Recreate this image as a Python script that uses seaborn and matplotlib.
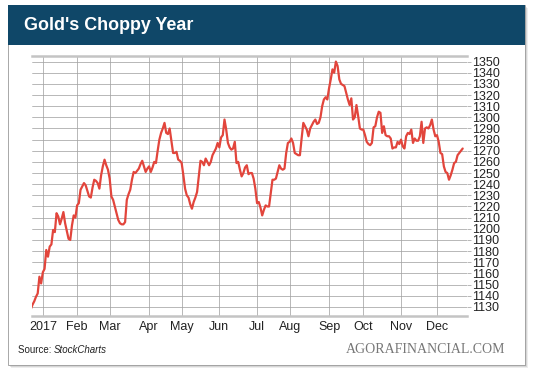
import matplotlib
matplotlib.use("Agg")
import matplotlib.pyplot as plt
from matplotlib.patches import Rectangle
import seaborn as sns
import pandas as pd

# gold daily close, trading-day index 0 = first session of 2017
prices = [
    1128, 1132, 1135, 1139, 1142, 1157, 1151, 1161, 1164, 1181,
    1175, 1184, 1186, 1199, 1197, 1214, 1211, 1204, 1209, 1215,
    1205, 1198, 1191, 1190, 1203, 1212, 1210, 1221, 1223, 1235,
    1238, 1241, 1239, 1234, 1229, 1228, 1237, 1244, 1243, 1241,
    1236, 1248, 1256, 1262, 1257, 1253, 1245, 1229, 1226, 1220,
    1214, 1208, 1205, 1204, 1204, 1206, 1226, 1231, 1235, 1244,
    1251, 1250, 1252, 1254, 1258, 1261, 1256, 1251, 1254, 1256,
    1251, 1255, 1260, 1259, 1270, 1280, 1286, 1290, 1295, 1286,
    1285, 1290, 1279, 1268, 1268, 1269, 1262, 1261, 1259, 1248,
    1236, 1230, 1228, 1222, 1218, 1224, 1228, 1233, 1247, 1261,
    1260, 1257, 1263, 1260, 1257, 1260, 1266, 1269, 1272, 1277,
    1273, 1282, 1284, 1298, 1289, 1277, 1273, 1271, 1272, 1278,
    1259, 1260, 1253, 1247, 1250, 1255, 1257, 1249, 1250, 1250,
    1245, 1236, 1223, 1224, 1219, 1212, 1217, 1221, 1220, 1220,
    1232, 1244, 1244, 1245, 1251, 1257, 1254, 1253, 1254, 1268,
    1277, 1278, 1281, 1277, 1268, 1267, 1266, 1266, 1281, 1295,
    1292, 1289, 1283, 1290, 1293, 1296, 1298, 1294, 1295, 1300,
    1310, 1316, 1318, 1316, 1326, 1334, 1343, 1340, 1350, 1346,
    1334, 1330, 1329, 1328, 1322, 1316, 1311, 1317, 1298, 1300,
    1311, 1301, 1290, 1289, 1289, 1284, 1278, 1276, 1275, 1277,
    1291, 1292, 1300, 1305, 1304, 1286, 1292, 1284, 1283, 1283,
    1281, 1272, 1273, 1273, 1278, 1276, 1280, 1274, 1272, 1283,
    1286, 1285, 1289, 1277, 1281, 1279, 1279, 1283, 1296, 1277,
    1290, 1291, 1290, 1293, 1298, 1289, 1283, 1284, 1278, 1268,
    1267, 1256, 1251, 1250, 1244, 1248, 1253, 1259, 1260, 1266,
    1268, 1270, 1272,
]
first_day = -7
days = list(range(first_day, first_day + len(prices)))

month_days = [0, 20, 39, 62, 81, 103, 125, 144, 167, 187, 209, 230]
month_labels = ['2017', 'Feb', 'Mar', 'Apr', 'May', 'Jun',
                'Jul', 'Aug', 'Sep', 'Oct', 'Nov', 'Dec']
price_ticks = list(range(1130, 1351, 10))

df = pd.DataFrame({'day': days, 'price': prices})

sns.set_style('white')
plt.rcParams['font.family'] = ['Liberation Sans', 'DejaVu Sans']

fig = plt.figure(figsize=(5.4, 3.75), dpi=100)
fig.patch.set_facecolor('white')

# card shadow + card + header band
for off, a in [(0.006, 0.10), (0.004, 0.15), (0.002, 0.25)]:
    fig.patches.append(Rectangle((0.0148 + off, 0.0267 - off * 1.4), 0.9574, 0.96,
                                 transform=fig.transFigure, facecolor='#555555',
                                 alpha=a, edgecolor='none', zorder=0))
fig.patches.append(Rectangle((0.0148, 0.0267), 0.9574, 0.96, transform=fig.transFigure,
                             facecolor='white', edgecolor='#9a9a9a', linewidth=0.6, zorder=1))
fig.patches.append(Rectangle((0.0148, 0.88), 0.9574, 0.1067, transform=fig.transFigure,
                             facecolor='#0f4768', edgecolor='none', zorder=2))
fig.text(0.045, 0.932, "Gold's Choppy Year", color='white', fontsize=12.9,
         fontweight='bold', va='center', ha='left', zorder=3)

ax = fig.add_axes([0.0587, 0.158, 0.8061, 0.6927])
ax.set_zorder(4)
ax.patch.set_alpha(0)

sns.lineplot(data=df, x='day', y='price', ax=ax, color='#e2453c', linewidth=1.6,
             zorder=5)

ax.set_xlim(-6.5, 247.5)
ax.set_ylim(1122, 1355)
ax.set_xticks(month_days)
ax.set_xticklabels(month_labels)
ax.set_yticks(price_ticks)
ax.yaxis.tick_right()
ax.set_xlabel('')
ax.set_ylabel('')

ax.grid(True, color='#a4a4a4', linewidth=0.55)
for side in ['left', 'right']:
    ax.spines[side].set_visible(False)
for side in ['top', 'bottom']:
    ax.spines[side].set_color('#c4c4c4')
    ax.spines[side].set_linewidth(1.8)

ax.tick_params(axis='y', which='both', length=3, width=0.55, color='#a4a4a4',
               pad=1, labelsize=9, labelcolor='#222222')
ax.tick_params(axis='x', which='both', length=0, pad=4, labelsize=9,
               labelcolor='#222222')

fig.text(0.033, 0.066, 'Source: ', fontsize=7, color='#222222', va='center',
         ha='left', zorder=3)
fig.text(0.1, 0.066, 'StockCharts', fontsize=7, style='italic', color='#222222',
         va='center', ha='left', zorder=3)
fig.text(0.935, 0.069, 'AGORAFINANCIAL.COM', fontsize=10, color='#777777',
         family=['Liberation Serif', 'DejaVu Serif'], va='center', ha='right',
         zorder=3)

fig.savefig('out.png', dpi=100)
